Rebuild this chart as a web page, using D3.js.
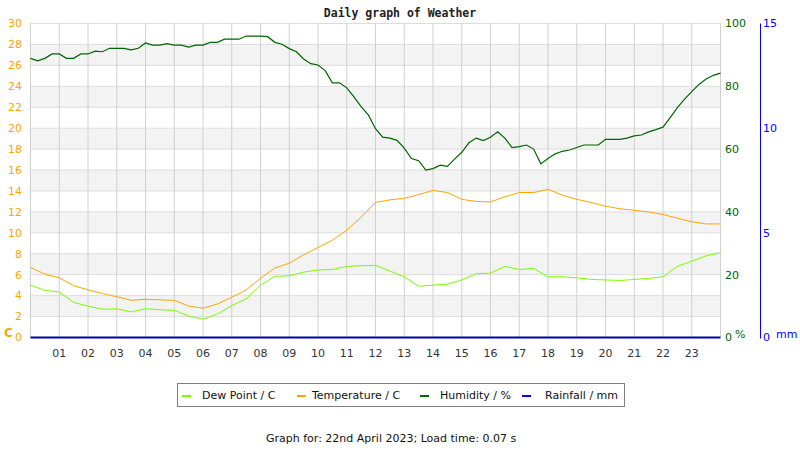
<!DOCTYPE html>
<html><head><meta charset="utf-8">
<script src="https://cdn.jsdelivr.net/npm/d3@7"></script>
<style>body{margin:0;background:#fff}svg{display:block}</style>
</head><body><svg id="c" width="800" height="450"></svg>
<script>
const hours = d3.range(0, 24.01, 0.5);
const humHours = d3.range(0, 24.01, 0.25);
const hourLabels = ["01","02","03","04","05","06","07","08","09","10","11","12","13","14","15","16","17","18","19","20","21","22","23"];
const tempTicks = [0,2,4,6,8,10,12,14,16,18,20,22,24,26,28,30];
const humTicks = [0,20,40,60,80,100];
const rainTicks = [0,5,10,15];
const temperature = [6.7,6.05,5.7,4.95,4.55,4.2,3.9,3.55,3.65,3.6,3.55,3.0,2.8,3.2,3.85,4.55,5.65,6.65,7.1,7.9,8.6,9.3,10.25,11.5,12.9,13.15,13.3,13.65,14.05,13.85,13.2,13.0,12.95,13.45,13.85,13.85,14.15,13.6,13.2,12.9,12.55,12.3,12.15,12.0,11.75,11.4,11.05,10.85,10.85];
const dewPoint = [5.0,4.5,4.35,3.35,3.0,2.7,2.75,2.45,2.75,2.65,2.6,2.05,1.75,2.25,3.05,3.7,5.0,5.85,5.9,6.25,6.45,6.5,6.8,6.85,6.9,6.35,5.8,4.9,5.0,5.1,5.5,6.1,6.15,6.8,6.5,6.6,5.8,5.8,5.7,5.55,5.5,5.45,5.55,5.65,5.8,6.8,7.3,7.8,8.1];
const humidity = [88.9,88.1,88.9,90.3,90.3,88.9,88.9,90.3,90.3,91.2,91.0,92.1,92.1,92.1,91.6,92.1,93.8,93.1,93.1,93.6,93.1,93.1,92.5,93.1,93.1,94.0,94.0,95.0,95.0,95.0,96.0,96.0,96.0,95.8,94.0,93.4,92.0,91.0,88.7,87.2,86.8,85.0,81.1,81.1,79.5,76.6,73.5,70.9,66.5,63.8,63.5,62.8,60.3,57.0,56.3,53.3,53.8,54.9,54.5,56.8,59.0,62.0,63.5,62.7,63.8,65.5,63.5,60.5,60.8,61.3,60.0,55.3,57.0,58.5,59.3,59.7,60.5,61.3,61.3,61.3,63.1,63.1,63.1,63.5,64.2,64.5,65.5,66.2,67.0,70.0,73.2,75.9,78.3,80.6,82.3,83.5,84.2];
const rainfall = hours.map(() => 0);
const seriesNames = ["Dew Point / C","Temperature / C","Humidity / %","Rainfall / mm"];
const seriesColors = ["#7cfc00","#ffa500","#006400","#0000ff"];

const svg = d3.select("#c");
const L = 30.5, R = 720.5, T = 23.5, B = 337.5;
const x = d3.scaleLinear().domain([0,24]).range([L,R]);
const yT = d3.scaleLinear().domain([0,30]).range([B,T]);
const yH = d3.scaleLinear().domain([0,100]).range([B,T]);
const yR = d3.scaleLinear().domain([0,15]).range([B,T]);
const font = "DejaVu Sans, sans-serif";

// bands
const bands = tempTicks.filter(v => v % 4 === 2 && v < 30);
svg.selectAll("rect.band").data(bands).enter().append("rect")
  .attr("x", L).attr("width", R-L).attr("y", d => yT(d+2)).attr("height", d => yT(d)-yT(d+2)).attr("fill", "#f3f3f3");
// grid
svg.append("g").selectAll("line").data(tempTicks).enter().append("line")
  .attr("x1", L).attr("x2", R).attr("y1", d => yT(d)).attr("y2", d => yT(d)).attr("stroke", "#dcdcdc");
svg.append("g").selectAll("line").data(d3.range(0,25)).enter().append("line")
  .attr("y1", T).attr("y2", B).attr("x1", d => x(d)).attr("x2", d => x(d)).attr("stroke", "#d0d0d0");

// axes labels
svg.append("g").selectAll("text").data(tempTicks).enter().append("text")
  .attr("x", 22).attr("y", d => yT(d)).attr("dy", "0.35em").attr("text-anchor", "end")
  .attr("fill", "#ffa500").attr("font-family", font).attr("font-size", 11).text(d => d);
svg.append("text").attr("x", 4).attr("y", 337).attr("fill", "#ffa500").attr("font-family", font)
  .attr("font-size", 12).attr("font-weight", "bold").text("C");
svg.append("g").selectAll("text").data(humTicks).enter().append("text")
  .attr("x", 725).attr("y", d => yH(d)).attr("dy", "0.35em").attr("fill", "#006400")
  .attr("font-family", font).attr("font-size", 11).text(d => d);
svg.append("text").attr("x", 735).attr("y", 338).attr("fill", "#006400").attr("font-family", font).attr("font-size", 11).text("%");
svg.append("line").attr("x1", 760.5).attr("x2", 760.5).attr("y1", T).attr("y2", B+1).attr("stroke", "#0000ff");
svg.append("g").selectAll("text").data(rainTicks).enter().append("text")
  .attr("x", 763).attr("y", d => yR(d)).attr("dy", "0.35em").attr("fill", "#0000ff")
  .attr("font-family", font).attr("font-size", 11).text(d => d);
svg.append("text").attr("x", 776).attr("y", 338).attr("fill", "#0000ff").attr("font-family", font).attr("font-size", 11).text("mm");
svg.append("g").selectAll("text").data(hourLabels).enter().append("text")
  .attr("x", (d,i) => x(i+1)).attr("y", 357).attr("text-anchor", "middle").attr("fill", "#333")
  .attr("font-family", font).attr("font-size", 11).text(d => d);

// lines
const mk = (xs, ys, arr) => d3.line().x((d,i) => x(xs[i])).y(d => ys(d))(arr);
svg.append("path").attr("d", mk(hours, yT, dewPoint)).attr("fill","none").attr("stroke", seriesColors[0]).attr("stroke-width", 1);
svg.append("path").attr("d", mk(hours, yT, temperature)).attr("fill","none").attr("stroke", seriesColors[1]).attr("stroke-width", 1);
svg.append("path").attr("d", mk(humHours, yH, humidity)).attr("fill","none").attr("stroke", seriesColors[2]).attr("stroke-width", 1.2);
svg.append("path").attr("d", mk(hours, yR, rainfall)).attr("fill","none").attr("stroke", "#0000a0").attr("stroke-width", 2);

// title
svg.append("text").attr("x", 400).attr("y", 17).attr("text-anchor", "middle").attr("font-family", "DejaVu Sans Mono, monospace")
  .attr("font-weight", "bold").attr("font-size", 11.5).attr("fill", "#222").text("Daily graph of Weather");

// legend
svg.append("rect").attr("x", 177.5).attr("y", 383.5).attr("width", 447).attr("height", 23).attr("fill", "#fff").attr("stroke", "#808080");
const sw = [182, 297, 420, 522], tx = [202, 312, 440, 545];
seriesNames.forEach((n,i) => {
  svg.append("line").attr("x1", sw[i]).attr("x2", sw[i]+9).attr("y1", 396).attr("y2", 396).attr("stroke", seriesColors[i]).attr("stroke-width", 2);
  svg.append("text").attr("x", tx[i]).attr("y", 399).attr("font-family", font).attr("font-size", 11).attr("fill", "#111").text(n);
});
svg.append("text").attr("x", 266).attr("y", 442).attr("font-family", font).attr("font-size", 11).attr("fill", "#111")
  .text("Graph for: 22nd April 2023; Load time: 0.07 s");
</script></body></html>
